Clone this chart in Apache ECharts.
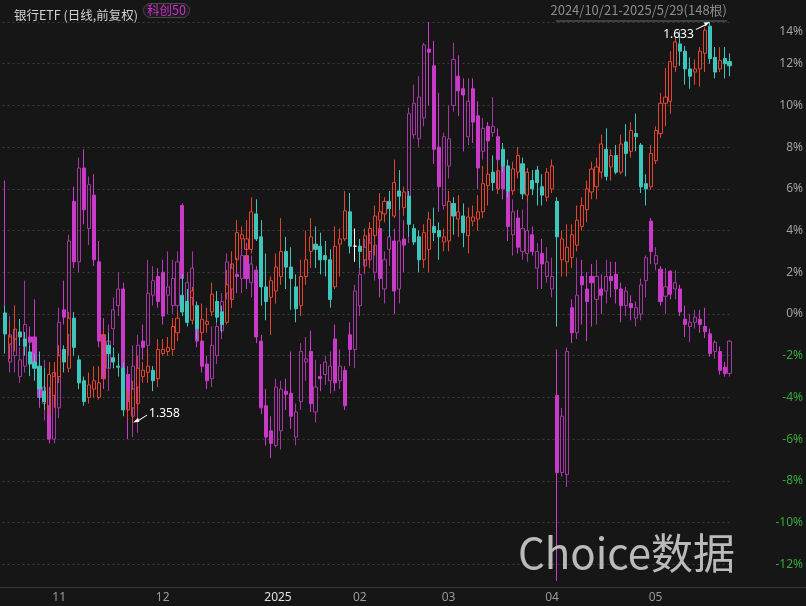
<!DOCTYPE html>
<html>
<head>
<meta charset="utf-8">
<script src="https://cdn.jsdelivr.net/npm/echarts/dist/echarts.min.js"></script>
<style>
html, body { margin: 0; padding: 0; background: #161616; }
#main { width: 806px; height: 606px; }
</style>
</head>
<body>
<div id="main"></div>
<script>
// trading days 2024/10/21 - 2025/5/29 (148 bars)
var days = [
  '1021','1022','1023','1024','1025','1028','1029','1030','1031',
  '1101','1104','1105','1106','1107','1108','1111','1112','1113','1114','1115','1118','1119','1120','1121','1122','1125','1126','1127','1128','1129',
  '1202','1203','1204','1205','1206','1209','1210','1211','1212','1213','1216','1217','1218','1219','1220','1223','1224','1225','1226','1227','1230','1231',
  '0102','0103','0106','0107','0108','0109','0110','0113','0114','0115','0116','0117','0120','0121','0122','0123','0124','0127',
  '0205','0206','0207','0210','0211','0212','0213','0214','0217','0218','0219','0220','0221','0224','0225','0226','0227','0228',
  '0303','0304','0305','0306','0307','0310','0311','0312','0313','0314','0317','0318','0319','0320','0321','0324','0325','0326','0327','0328','0331',
  '0401','0402','0403','0407','0408','0409','0410','0411','0414','0415','0416','0417','0418','0421','0422','0423','0424','0425','0428','0429','0430',
  '0506','0507','0508','0509','0512','0513','0514','0515','0516','0519','0520','0521','0522','0523','0526','0527','0528','0529'
];
// first trading day of each month -> tick label
var monthTicks = { '1101': '11', '1202': '12', '0102': '2025', '0205': '02', '0303': '03', '0401': '04', '0506': '05' };

// 银行ETF, % change: [open, close, low, high]
var bankK = [
  [0.05,-0.96,-1.9,0.4],[-1.44,-1.1,-2.16,-0.34],[-1.2,-0.72,-1.8,0.4],[-0.86,-1.1,-1.54,-0.24],[-1.2,-1.54,-2.0,-0.86],
  [-1.82,-2.4,-2.98,-1.54],[-2.3,-2.6,-3.2,-1.9],[-2.5,-3.6,-4.1,-1.8],[-3.7,-4.2,-4.6,-2.6],[-4.7,-2.9,-4.8,-2.3],
  [-3.9,-2.8,-4.5,-2.3],[-3.0,-2.0,-3.3,-1.5],[-1.7,-2.3,-2.8,-1.5],[-2.6,-0.2,-2.8,0.1],[-0.2,-1.6,-2.0,0.1],
  [-2.2,-3.3,-3.6,-2.0],[-3.2,-4.2,-4.4,-3.0],[-4.0,-3.4,-4.3,-2.8],[-3.6,-3.2,-4.0,-2.5],[-4.0,-3.3,-4.1,-2.5],
  [-3.1,-1.0,-3.3,-0.7],[-1.5,-1.9,-2.6,-0.9],[-2.1,-2.3,-2.6,-1.6],[-2.5,-2.55,-3.0,-1.9],[-2.6,-4.6,-4.9,-2.3],
  [-4.6,-3.9,-5.0,-3.6],[-4.9,-3.6,-5.2,-3.2],[-4.3,-2.6,-4.6,-2.0],[-3.0,-2.7,-3.3,-2.3],[-2.8,-2.5,-3.3,-1.7],
  [-2.7,-3.2,-3.7,-2.5],[-3.1,-1.7,-3.5,-1.2],[-1.9,-1.7,-2.0,-1.2],[-1.8,-1.6,-2.0,-1.1],[-1.7,-0.6,-2.0,-0.2],
  [-0.9,-0.2,-1.3,0.1],[0.9,0.1,-0.1,1.9],[0.6,-0.4,-0.6,1.2],[-0.3,1.1,-0.5,1.3],[0.4,-0.7,-1.2,0.6],
  [-0.9,-0.25,-1.35,0.5],[-0.5,-0.35,-0.9,0.3],[0.1,0.95,-0.1,1.5],[0.6,-0.15,-0.4,1.1],[0.1,-0.5,-0.9,0.4],
  [-0.4,1.4,-0.5,2.1],[0.7,2.4,0.3,3.0],[2.6,3.9,2.2,4.5],[3.6,3.8,3.1,4.2],[3.1,3.6,2.5,4.5],
  [3.1,4.9,2.9,5.6],[4.8,3.6,3.5,5.5],[3.7,1.3,0.4,4.5],[1.3,0.6,-0.3,2.9],[0.8,1.6,-1.0,1.8],
  [1.1,2.25,0.5,2.9],[1.8,3.0,1.4,4.6],[3.0,2.25,1.2,3.7],[2.25,1.7,0.2,3.2],[1.3,0.25,-0.4,1.9],
  [0.4,1.8,-0.1,2.6],[1.8,2.6,1.4,4.0],[3.0,3.7,2.2,4.6],[3.35,3.1,2.2,4.2],[3.25,2.6,1.9,3.9],
  [2.8,2.6,1.8,3.5],[2.6,0.7,0.3,3.1],[1.3,3.25,1.2,4.2],[3.35,3.6,1.8,4.1],[3.6,4.95,3.5,5.9],
  [4.9,3.25,2.9,5.8],[3.25,3.25,2.5,4.1],[3.25,3.0,2.2,3.6],[2.6,3.75,2.0,4.1],[3.0,4.1,2.3,4.4],
  [3.75,4.7,2.8,5.2],[4.5,4.9,3.9,5.8],[4.8,5.4,4.4,5.6],[5.4,5.05,3.7,5.9],[4.7,6.3,4.6,7.4],
  [5.9,5.65,5.0,6.9],[5.1,5.85,4.7,6.1],[5.65,4.3,3.7,5.9],[4.1,3.45,3.3,4.3],[3.7,2.6,2.0,4.0],
  [2.6,3.9,2.2,4.3],[3.1,4.55,2.0,4.9],[4.2,3.9,3.5,5.1],[4.0,3.7,2.6,4.4],[3.45,3.7,3.0,4.1],
  [3.5,5.4,3.0,5.9],[5.3,4.7,3.8,5.6],[4.55,4.9,3.7,5.7],[4.7,3.9,3.2,5.3],[3.75,4.65,2.9,5.1],
  [4.45,4.65,4.2,5.2],[4.55,4.9,4.0,5.7],[4.9,6.25,4.6,7.1],[6.15,6.7,5.2,7.2],[6.8,6.3,5.9,7.6],
  [6.0,6.87,5.76,7.2],[7.9,7.1,6.8,8.2],[7.1,5.9,5.6,7.4],[5.9,6.96,5.7,7.3],[6.8,7.6,6.5,8.0],
  [7.2,5.76,5.5,7.5],[5.7,6.8,5.4,7.0],[6.4,6.0,5.7,6.9],[6.9,6.3,5.2,7.1],[6.1,5.7,5.2,6.7],
  [5.6,6.8,5.4,7.0],[6.0,7.1,5.8,7.4],[5.4,3.7,-0.6,5.6],[2.6,3.6,1.8,4.0],[2.5,3.2,1.8,4.3],
  [2.7,3.8,2.2,4.3],[3.3,4.5,3.0,5.2],[4.2,5.2,4.0,5.6],[5.0,6.0,4.4,6.4],[5.85,6.95,5.5,7.3],
  [6.1,7.05,5.5,7.5],[6.8,8.15,6.5,8.6],[7.9,6.6,6.4,8.9],[7.05,7.6,6.4,7.9],[7.6,6.8,6.7,8.1],
  [6.8,8.15,6.7,8.6],[8.25,7.7,6.6,9.1],[7.8,8.8,7.5,9.2],[8.65,8.5,7.8,9.6],[8.1,6.1,5.8,8.2],
  [6.25,6.0,5.2,6.7],[6.1,7.7,5.95,8.1],[7.35,8.8,7.2,9.0],[8.65,10.1,8.45,10.6],[10.1,10.4,9.0,11.8],
  [10.2,12.1,9.6,12.6],[11.85,13.05,11.6,13.3],[12.95,12.6,11.9,13.6],[12.6,11.75,11.0,12.85],[11.75,11.4,10.8,12.3],
  [11.6,11.75,11.0,12.2],[11.75,12.6,10.9,12.8],[12.5,13.6,11.6,13.75],[13.8,12.25,12.0,14.0],[12.3,11.6,11.3,12.8],
  [11.75,12.15,11.6,12.8],[12.25,12.0,11.3,12.8],[12.1,11.9,11.4,12.5]
];

// 科创50, % change: [open, close, low, high]
var kcK = [
  [-0.3,-0.8,-1.8,6.4],[-2.3,-1.0,-2.8,-0.1],[-2.0,-1.2,-2.8,0.4],[-3.0,-2.2,-3.3,-1.6],[-2.5,-0.5,-2.8,1.6],
  [-1.1,-1.35,-1.8,-0.6],[-1.1,-2.5,-2.8,0.7],[-3.0,-4.0,-4.5,-2.0],[-4.3,-3.5,-5.1,-2.2],[-4.4,-6.0,-6.2,-3.5],
  [-6.0,-3.0,-6.2,-2.5],[-4.5,-0.4,-5.0,0.3],[0.2,-0.15,-0.5,1.6],[-1.0,3.5,-2.0,3.8],[5.4,2.5,2.2,6.1],
  [2.5,7.0,2.0,7.5],[7.0,5.0,4.3,7.9],[4.1,6.2,3.3,6.6],[5.7,2.6,2.3,6.7],[2.5,-1.3,-1.6,3.5],
  [-1.0,-3.1,-3.6,-0.2],[-2.6,-1.3,-3.7,-0.5],[-0.7,0.2,-1.5,0.8],[0.4,1.2,-0.1,2.0],[1.2,-2.6,-4.7,1.5],
  [-2.9,-4.2,-6.0,-2.5],[-4.5,-2.5,-5.9,-1.5],[-3.5,-1.5,-5.7,-1.0],[-1.3,-1.6,-2.2,-0.5],[-1.5,1.0,-2.0,2.6],
  [0.9,1.6,0.4,2.3],[1.8,0.6,0.3,2.2],[2.0,-0.1,-0.5,2.6],[0.9,1.3,0.0,3.0],[0.4,1.7,0.0,2.6],
  [0.4,2.5,0.0,3.0],[5.2,1.7,1.0,5.3],[0.6,1.5,0.2,2.0],[0.8,2.2,0.4,3.0],[-0.3,-1.3,-1.6,0.4],
  [-1.3,-2.5,-2.8,-0.9],[-2.4,-3.2,-3.6,-2.0],[-3.1,-1.5,-3.5,-0.6],[-2.0,-0.6,-2.4,0.0],[-0.8,0.6,-1.2,1.0],
  [1.0,2.5,0.7,2.9],[1.2,2.2,0.3,3.0],[1.9,1.8,1.0,2.7],[1.7,2.8,1.0,3.1],[2.8,1.7,1.2,3.4],
  [1.5,2.4,0.8,2.8],[2.1,-1.1,-1.4,2.3],[-1.3,-4.5,-4.8,-1.0],[-4.4,-5.9,-6.3,-3.6],[-5.6,-6.2,-6.9,-4.9],
  [-6.3,-3.5,-6.4,-3.1],[-5.6,-3.6,-6.5,-3.2],[-3.7,-3.85,-4.6,-3.1],[-3.8,-4.9,-5.5,-1.8],[-5.9,-4.7,-6.3,-4.3],
  [-4.2,-1.8,-4.6,-1.4],[-2.3,-2.15,-3.2,-1.1],[-1.8,-4.3,-4.7,-0.8],[-4.7,-3.5,-5.2,-2.2],[-3.0,-3.1,-3.7,-2.4],
  [-2.9,-2.3,-3.4,-2.0],[-3.2,-2.5,-3.8,-1.8],[-1.2,-3.3,-3.7,-0.5],[-3.2,-2.5,-3.6,-1.7],[-2.7,-4.4,-4.6,-2.5],
  [-1.0,-1.7,-2.5,-0.4],[-1.7,1.1,-2.6,1.4],[0.4,1.9,-0.1,2.3],[2.3,3.2,1.9,3.6],[2.6,3.4,2.2,3.9],
  [2.0,3.3,1.6,3.8],[4.1,1.7,0.8,4.3],[1.2,2.6,0.5,3.0],[3.1,3.7,2.3,4.5],[3.5,1.1,0.0,4.1],
  [1.2,3.5,0.5,6.1],[3.6,3.3,2.0,4.5],[5.6,9.6,3.4,9.9],[8.6,10.1,8.4,11.0],[8.4,10.4,8.0,11.4],
  [9.4,12.9,9.0,13.0],[12.7,12.55,10.0,14.0],[11.9,7.9,7.2,13.1],[8.0,6.1,4.9,10.6],[5.2,8.5,5.0,8.7],
  [7.1,8.4,6.5,10.0],[10.0,12.2,9.7,13.0],[11.4,10.7,9.5,12.4],[10.8,10.5,7.8,11.3],[8.5,10.2,8.1,11.3],
  [10.8,9.2,8.2,11.3],[9.5,7.0,6.0,10.2],[7.8,8.9,7.4,9.4],[9.0,8.3,7.2,9.2],[8.7,9.0,8.5,10.4],
  [8.5,7.4,6.0,8.9],[7.2,6.0,5.5,7.6],[6.0,4.2,3.5,7.1],[3.8,4.9,2.8,5.5],[4.6,3.2,2.9,5.0],
  [3.0,4.1,2.6,5.0],[2.9,4.0,2.5,5.6],[3.8,3.0,2.8,4.2],[2.2,3.0,1.2,3.4],[2.9,2.4,1.2,3.6],
  [1.8,2.5,1.5,3.2],[1.2,1.8,0.8,2.7],[-3.9,-7.6,-12.8,-1.7],[-7.6,-4.9,-7.8,-4.5],[-7.7,-1.8,-8.3,-1.6],
  [0.3,-0.9,-1.4,0.7],[-0.9,0.9,-1.2,2.7],[1.8,1.4,-0.5,2.6],[1.2,0.6,-1.3,2.0],[1.8,1.5,-0.6,2.4],
  [0.7,1.8,-0.5,2.6],[1.2,0.9,0.0,1.9],[1.1,1.8,0.5,2.6],[1.8,1.6,0.8,2.5],[1.9,1.2,0.5,2.5],
  [1.2,0.4,-0.4,1.5],[0.4,1.1,-0.1,1.3],[0.5,0.3,-0.3,0.9],[-0.2,0.3,-0.6,0.6],[0.0,1.4,-0.3,1.7],
  [1.6,2.7,0.8,2.8],[4.45,3.0,2.4,4.6],[2.4,2.8,2.1,3.2],[2.15,0.6,0.4,2.3],[0.85,1.3,0.0,2.2],
  [2.05,0.95,0.7,2.1],[1.2,1.5,0.7,2.1],[1.2,0.1,-0.1,1.4],[-0.25,-0.5,-1.1,0.4],[-0.6,-0.4,-1.35,0.0],
  [-0.4,-0.15,-0.7,0.2],[-0.25,-0.5,-0.9,0.2],[-0.6,-0.85,-1.15,0.3],[-0.95,-1.9,-2.05,-0.7],[-1.8,-1.35,-2.15,-1.25],
  [-1.8,-2.7,-2.9,-1.55],[-2.55,-2.85,-3.0,-2.3],[-2.85,-1.3,-3.0,-1.25]
];

// 区间最低 / 最高 (price labels)
var lowIdx = 26, lowLabel = '1.358';
var highIdx = 143, highLabel = '1.633';

var chart = echarts.init(document.getElementById('main'));

// flat candle drawn white
var bankData = bankK.map(function (d) {
  if (d[0] === d[1]) {
    return { value: d, itemStyle: { color: '#ffffff', borderColor: '#ffffff', color0: '#ffffff', borderColor0: '#ffffff' } };
  }
  return d;
});

chart.setOption({
  backgroundColor: '#161616',
  animation: false,
  title: [
    {
      text: '银行ETF (日线,前复权)', left: 9, top: 4,
      textStyle: { color: '#d2d2d2', fontSize: 12.5, fontWeight: 'normal', fontFamily: 'Noto Sans CJK SC' }
    },
    {
      text: '科创50', left: 143, top: 3, padding: [1, 4, 1, 4],
      borderColor: '#4a4a4a', borderWidth: 1, borderRadius: 9, backgroundColor: '#221a22',
      textStyle: { color: '#c433c4', fontSize: 12.5, fontWeight: 'normal', fontFamily: 'Noto Sans CJK SC' }
    }
  ],
  graphic: [
    {
      type: 'text', right: 79, top: 4,
      style: { text: '2024/10/21-2025/5/29(148根)', fill: '#8c8c8c', font: '13px "Noto Sans CJK SC"' }
    },
    { type: 'line', shape: { x1: 556, y1: 21, x2: 727, y2: 21 }, style: { stroke: '#6a6a6a', lineWidth: 1 } },
    { type: 'line', shape: { x1: 0, y1: 587.5, x2: 806, y2: 587.5 }, style: { stroke: '#3a3a3a', lineWidth: 1 } },
    {
      type: 'text', left: 518, top: 532, z: 100,
      style: { text: 'Choice数据', fill: 'rgba(215,215,215,0.85)', font: '42px "Noto Sans CJK SC"' }
    }
  ],
  grid: { left: 2.5, right: 73.2, top: 22, bottom: 0 },
  xAxis: {
    type: 'category',
    data: days,
    boundaryGap: true,
    offset: -19,
    axisLine: { show: false },
    axisTick: { show: false },
    splitLine: { show: false },
    axisLabel: {
      interval: function (i, v) { return monthTicks[v] !== undefined; },
      formatter: function (v) { return monthTicks[v] || ''; },
      align: 'left',
      padding: [0, 0, 0, 3],
      margin: 5,
      fontSize: 12,
      fontFamily: 'Noto Sans',
      color: function (v) { return v === '0102' ? '#e0e0e0' : '#9a9a9a'; }
    }
  },
  yAxis: {
    type: 'value',
    position: 'right',
    min: -14, max: 14, interval: 2,
    axisLine: { show: false },
    axisTick: { show: false },
    splitLine: { lineStyle: { color: '#3c3c3c', type: [2, 3] } },
    axisLabel: {
      align: 'right',
      margin: 71,
      fontSize: 12,
      fontFamily: 'Noto Sans',
      formatter: function (v) {
        if (v === 14) return '{t|14%}';
        if (v === -14) return '';
        return v + '%';
      },
      color: function (v) { return Number(v) < 0 ? '#36a83a' : '#a0a0a0'; },
      rich: { t: { color: '#a0a0a0', fontSize: 12, fontFamily: 'Noto Sans', padding: [20, 0, 0, 0] } }
    }
  },
  series: [
    {
      name: '科创50',
      type: 'candlestick',
      data: kcK,
      barWidth: 3.6,
      itemStyle: {
        color: 'transparent', borderColor: '#a437a4',
        color0: '#c93ac9', borderColor0: '#c93ac9',
        borderWidth: 1
      }
    },
    {
      name: '银行ETF',
      type: 'candlestick',
      data: bankData,
      barWidth: 3.6,
      itemStyle: {
        color: 'transparent', borderColor: '#e5432f',
        color0: '#3ec6bd', borderColor0: '#3ec6bd',
        borderWidth: 1
      },
      markPoint: {
        silent: true,
        data: [
          {
            coord: [days[lowIdx], bankK[lowIdx][2]],
            symbol: 'path://M0,8L5,3.6L6.2,7.4Z M4.2,6.4L14,0.5L14,1.5L4.8,7.2Z',
            symbolSize: [14, 8], symbolOffset: [7, -4], symbolKeepAspect: false,
            itemStyle: { color: '#ffffff' },
            label: { show: true, position: 'right', distance: 2, offset: [0, -5], formatter: lowLabel, color: '#ffffff', fontSize: 12, fontFamily: 'Noto Sans' }
          },
          {
            coord: [days[highIdx], bankK[highIdx][3]],
            symbol: 'path://M14,0L8,0.6L9.8,4.4Z M10,2.2L0,7.4L0,8.4L10.6,3.2Z',
            symbolSize: [14, 8], symbolOffset: [-7, 4], symbolKeepAspect: false,
            itemStyle: { color: '#ffffff' },
            label: { show: true, position: 'left', distance: 2, offset: [0, 9], formatter: highLabel, color: '#ffffff', fontSize: 12, fontFamily: 'Noto Sans' }
          }
        ]
      }
    }
  ]
});
</script>
</body>
</html>
